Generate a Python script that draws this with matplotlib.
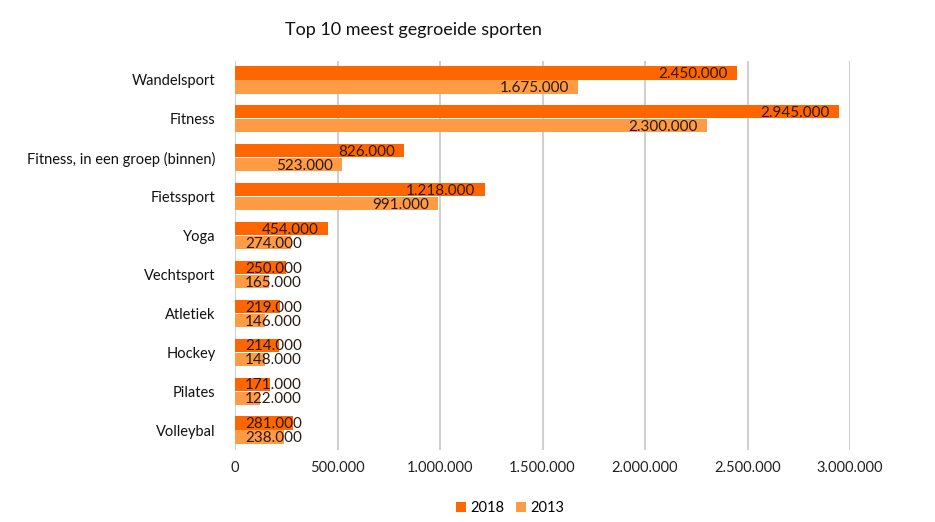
import matplotlib
matplotlib.use("Agg")
import matplotlib.pyplot as plt
import numpy as np

categories = ["Wandelsport", "Fitness", "Fitness, in een groep (binnen)", "Fietssport",
              "Yoga", "Vechtsport", "Atletiek", "Hockey", "Pilates", "Volleybal"]
v2018 = [2450000, 2945000, 826000, 1218000, 454000, 250000, 219000, 214000, 171000, 281000]
v2013 = [1675000, 2300000, 523000, 991000, 274000, 165000, 146000, 148000, 122000, 238000]
xticks = [0, 500000, 1000000, 1500000, 2000000, 2500000, 3000000]

c2018 = "#FF6600"
c2013 = "#FF9A45"

plt.rcParams['font.family'] = ['Lato', 'DejaVu Sans']

def fmt(v):
    return f"{v:,}".replace(",", ".")

fig = plt.figure(figsize=(9.35, 5.22), dpi=100)
ax = fig.add_axes([235/935, 1-449.5/522, (850-235)/935, (449.5-60.5)/522])

y = np.arange(len(categories))
h = 0.34
ax.barh(y - h/2 - 0.01, v2018, height=h, color=c2018, label="2018", zorder=2)
ax.barh(y + h/2 + 0.01, v2013, height=h, color=c2013, label="2013", zorder=2)

ax.set_ylim(len(categories) - 0.5, -0.5)
ax.set_xlim(0, 3000000)
ax.set_xticks(xticks)
ax.set_xticklabels([fmt(t) for t in xticks], fontsize=10.5, color="#222222")
ax.set_yticks(y)
ax.set_yticklabels(categories, fontsize=10.5, color="#111111")
ax.tick_params(axis='both', length=0, pad=8)
ax.tick_params(axis='y', pad=14)
ax.grid(axis='x', color="#d0d0d0", linewidth=1.5, zorder=0)
for s in ax.spines.values():
    s.set_visible(False)

minleft = 50000
for vals, off in ((v2018, -h/2 - 0.01), (v2013, h/2 + 0.01)):
    for i, v in enumerate(vals):
        if v < 320000:
            ax.text(minleft, i + off + 0.03, fmt(v), ha='left', va='center', fontsize=11,
                    color="#2a1a10", zorder=3)
        else:
            ax.text(v - 45000, i + off + 0.03, fmt(v), ha='right', va='center', fontsize=11,
                    color="#2a1a10", zorder=3)

fig.text(413/935, 1-30/522, "Top 10 meest gegroeide sporten", ha='center', va='center',
         fontsize=13, color="#111111")

leg = fig.legend(loc='center', bbox_to_anchor=(510/935, 1-508/522), ncol=2, frameon=False,
                 fontsize=10.5, handlelength=0.7, handleheight=0.7, handletextpad=0.3,
                 columnspacing=0.8)

fig.savefig("out.png", dpi=100, facecolor="white")
